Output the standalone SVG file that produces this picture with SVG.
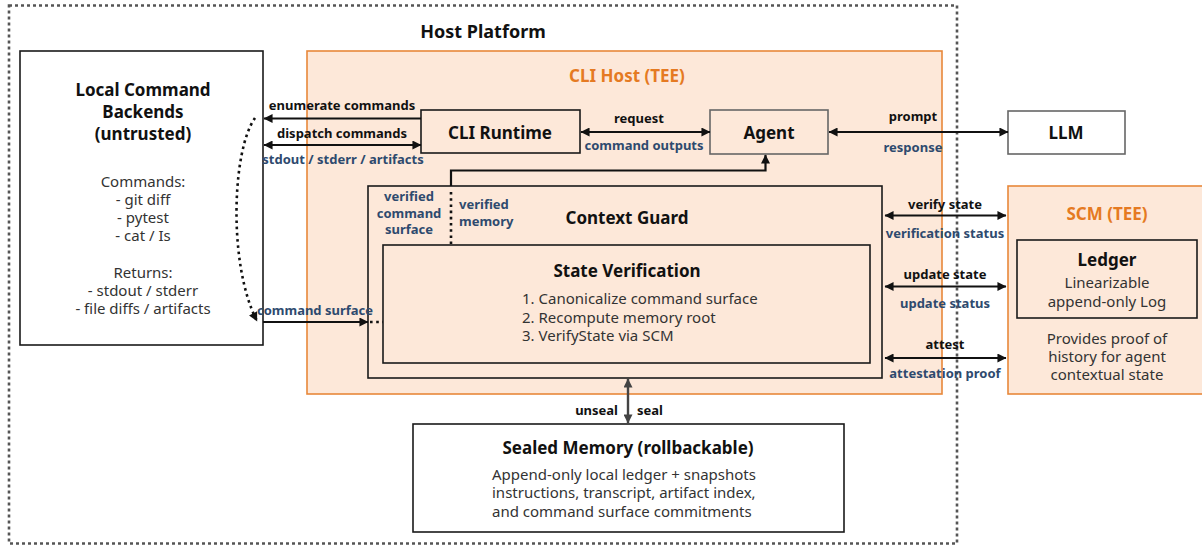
<svg xmlns="http://www.w3.org/2000/svg" width="1202" height="548" viewBox="0 0 1202 548">
  <style>
    text{font-family:"Noto Sans","Liberation Sans",sans-serif;dominant-baseline:central}
    .h{font-weight:700;font-size:17px;fill:#111;text-anchor:middle}
    .ht{font-weight:700;font-size:18px;fill:#111;text-anchor:middle}
    .or{font-weight:700;font-size:17px;fill:#e57a22;text-anchor:middle}
    .b{font-size:15px;fill:#333;text-anchor:middle}
    .bl{font-size:15px;fill:#333;text-anchor:start}
    .l{font-weight:700;font-size:13px;fill:#111;text-anchor:middle}
    .n{font-weight:700;font-size:13px;fill:#2e4a6e;text-anchor:middle}
    .box{fill:#fff;stroke:#1a1a1a;stroke-width:1.6}
    .boxp{fill:none;stroke:#1a1a1a;stroke-width:1.6}
    .boxg{fill:none;stroke:#666;stroke-width:1.6}
    .tee{fill:#fde8d9;stroke:#e8883a;stroke-width:1.6}
    .ar{fill:none;stroke:#111;stroke-width:2.2}
    .dot{fill:none;stroke:#111;stroke-width:2.6;stroke-dasharray:2.6 3.6}
  </style>
  <defs>
    <marker id="ah" viewBox="0 0 10 10" refX="9.5" refY="5" markerWidth="10" markerHeight="9" markerUnits="userSpaceOnUse" orient="auto-start-reverse">
      <path d="M0,0 L10,5 L0,10 z" fill="#111"/>
    </marker>
    <marker id="ahg" viewBox="0 0 10 10" refX="9.5" refY="5" markerWidth="10" markerHeight="9" markerUnits="userSpaceOnUse" orient="auto-start-reverse">
      <path d="M0,0 L10,5 L0,10 z" fill="#444"/>
    </marker>
  </defs>

  <g id="host-platform">
    <rect x="9" y="5.5" width="948" height="538" fill="none" stroke="#555" stroke-width="2.6" stroke-dasharray="3 3"/>
    <text class="ht" x="483" y="31">Host Platform</text>
  </g>

  <g id="local-command-backends">
    <rect class="box" x="20" y="51" width="243" height="294"/>
    <text class="h" x="143" y="89">Local Command</text>
    <text class="h" x="143" y="111">Backends</text>
    <text class="h" x="143" y="133">(untrusted)</text>
    <text class="b" x="143" y="181">Commands:</text>
    <text class="b" x="143" y="199">- git diff</text>
    <text class="b" x="143" y="217">- pytest</text>
    <text class="b" x="143" y="235">- cat / Is</text>
    <text class="b" x="143" y="272">Returns:</text>
    <text class="b" x="143" y="290">- stdout / stderr</text>
    <text class="b" x="143" y="308">- file diffs / artifacts</text>
  </g>

  <g id="cli-host">
    <rect class="tee" x="307" y="51" width="635" height="343"/>
    <text class="or" x="627" y="75">CLI Host (TEE)</text>
  </g>

  <g id="scm">
    <rect class="tee" x="1008" y="186" width="210" height="208"/>
    <text class="or" x="1107" y="213">SCM (TEE)</text>
    <text class="b" x="1107" y="338">Provides proof of</text>
    <text class="b" x="1107" y="356">history for agent</text>
    <text class="b" x="1107" y="374">contextual state</text>
  </g>

  <g id="ledger">
    <rect class="boxp" x="1017" y="240" width="180" height="78"/>
    <text class="h" x="1107" y="259">Ledger</text>
    <text class="b" x="1107" y="282">Linearizable</text>
    <text class="b" x="1107" y="301">append-only Log</text>
  </g>

  <g id="cli-runtime">
    <rect class="boxp" x="421" y="110" width="159" height="43"/>
    <text class="h" x="500" y="132">CLI Runtime</text>
  </g>

  <g id="agent">
    <rect class="boxg" x="710" y="110" width="118" height="44"/>
    <text class="h" x="769" y="132">Agent</text>
  </g>

  <g id="llm">
    <rect x="1008" y="111" width="117" height="43" fill="#fff" stroke="#666" stroke-width="1.6"/>
    <text class="h" x="1066" y="132">LLM</text>
  </g>

  <g id="context-guard">
    <rect class="boxp" x="368" y="186" width="514" height="192"/>
    <text class="h" x="627" y="217">Context Guard</text>
  </g>

  <g id="state-verification">
    <rect class="boxp" x="383" y="245" width="487" height="118"/>
    <text class="h" x="627" y="270">State Verification</text>
    <text class="bl" x="522" y="298">1. Canonicalize command surface</text>
    <text class="bl" x="522" y="316.5">2. Recompute memory root</text>
    <text class="bl" x="522" y="335">3. VerifyState via SCM</text>
  </g>

  <g id="sealed-memory">
    <rect class="box" x="413" y="424" width="431" height="108"/>
    <text class="h" x="628" y="447">Sealed Memory (rollbackable)</text>
    <text class="bl" x="492" y="474">Append-only local ledger + snapshots</text>
    <text class="bl" x="492" y="492">instructions, transcript, artifact index,</text>
    <text class="bl" x="492" y="511">and command surface commitments</text>
  </g>

  <g id="connectors">
    <!-- enumerate commands -->
    <line class="ar" x1="421" y1="118.5" x2="264" y2="118.5" marker-end="url(#ah)"/>
    <text class="l" x="342" y="104.5">enumerate commands</text>
    <!-- dispatch commands -->
    <line class="ar" x1="264" y1="145" x2="421" y2="145" marker-start="url(#ah)" marker-end="url(#ah)"/>
    <text class="l" x="342" y="133">dispatch commands</text>
    <text class="n" x="343" y="158.5">stdout / stderr / artifacts</text>
    <!-- dotted loop -->
    <path class="dot" d="M255,118 C232,150 228,265 257,321" marker-end="url(#ah)"/>
    <!-- command surface -->
    <line class="ar" x1="263" y1="322" x2="368" y2="322" marker-end="url(#ah)"/>
    <line class="dot" x1="370" y1="322" x2="383" y2="322"/>
    <text class="n" x="315" y="310">command surface</text>
    <!-- request / command outputs -->
    <line class="ar" x1="581" y1="132" x2="710" y2="132" marker-start="url(#ah)" marker-end="url(#ah)"/>
    <text class="l" x="639" y="117.5">request</text>
    <text class="n" x="644" y="145">command outputs</text>
    <!-- prompt / response -->
    <line class="ar" x1="829" y1="132" x2="1008" y2="132" marker-start="url(#ah)" marker-end="url(#ah)"/>
    <text class="l" x="913" y="116">prompt</text>
    <text class="n" x="913" y="147">response</text>
    <!-- context guard to agent -->
    <path class="ar" d="M451,186 V170.5 H765.5 V155" marker-end="url(#ah)"/>
    <line class="dot" x1="451" y1="192" x2="451" y2="244"/>
    <text class="n" x="409" y="196">verified</text>
    <text class="n" x="409" y="212.5">command</text>
    <text class="n" x="409" y="229">surface</text>
    <text class="n" x="459" y="204" style="text-anchor:start">verified</text>
    <text class="n" x="459" y="221" style="text-anchor:start">memory</text>
    <!-- SCM arrows -->
    <line class="ar" x1="885" y1="215.5" x2="1006" y2="215.5" marker-start="url(#ah)" marker-end="url(#ah)"/>
    <text class="l" x="945" y="204">verify state</text>
    <text class="n" x="945" y="233">verification status</text>
    <line class="ar" x1="885" y1="286.5" x2="1006" y2="286.5" marker-start="url(#ah)" marker-end="url(#ah)"/>
    <text class="l" x="945" y="274">update state</text>
    <text class="n" x="945" y="303">update status</text>
    <line class="ar" x1="885" y1="358" x2="1006" y2="358" marker-start="url(#ah)" marker-end="url(#ah)"/>
    <text class="l" x="945" y="344">attest</text>
    <text class="n" x="945" y="373">attestation proof</text>
    <!-- seal / unseal -->
    <line x1="628" y1="379" x2="628" y2="423" stroke="#444" stroke-width="2.4" marker-start="url(#ahg)" marker-end="url(#ahg)"/>
    <text class="l" x="618" y="410" style="text-anchor:end">unseal</text>
    <text class="l" x="637" y="410" style="text-anchor:start">seal</text>
  </g>
</svg>
